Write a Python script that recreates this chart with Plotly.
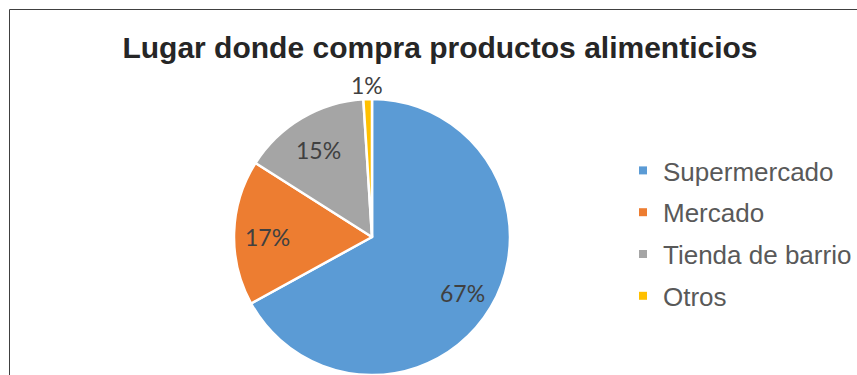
import math
import plotly.graph_objects as go

title_text = "Lugar donde compra productos alimenticios"
categories = ["Supermercado", "Mercado", "Tienda de barrio", "Otros"]
values = [67, 17, 15, 1]
colors = ["#5B9BD5", "#ED7D31", "#A5A5A5", "#FFC000"]
label_inside = [True, True, True, False]

W, H = 857, 375
# pie geometry in pixels (center x, center y from top, radius)
PIE_CX, PIE_CY, PIE_R = 372, 237, 138

fig = go.Figure()

fig.add_trace(go.Pie(
    labels=categories,
    values=values,
    sort=False,
    direction="clockwise",
    rotation=0,
    marker=dict(colors=colors, line=dict(color="white", width=2.5)),
    textinfo="none",
    domain=dict(x=[(PIE_CX - PIE_R) / W, (PIE_CX + PIE_R) / W],
                y=[1 - (PIE_CY + PIE_R) / H, 1 - (PIE_CY - PIE_R) / H]),
    showlegend=False,
    hoverinfo="label+percent",
))

# percentage labels placed along each slice's mid-angle
total = sum(values)
cum = 0.0
annotations = []
for v, inside in zip(values, label_inside):
    mid = (cum + v / 2) / total * 2 * math.pi  # clockwise from 12 o'clock
    cum += v
    d = PIE_R * 0.76 if inside else PIE_R + 17
    px = PIE_CX + d * math.sin(mid)
    py = PIE_CY + 3 - d * math.cos(mid)
    annotations.append(dict(
        x=px / W, y=1 - py / H, xref="paper", yref="paper",
        xanchor="center", yanchor="middle",
        text=f"{round(v / total * 100)}%", showarrow=False,
        font=dict(family="Lato", size=23, color="#404040"),
    ))

# legend entries (one group per category for spacing)
for name, col in zip(categories, colors):
    fig.add_trace(go.Scatter(
        x=[None], y=[None], mode="markers", name=name,
        marker=dict(symbol="square", size=8, color=col),
        legendgroup=name, showlegend=True, hoverinfo="skip",
    ))

fig.update_layout(
    width=W, height=H,
    margin=dict(l=0, r=0, t=0, b=0, autoexpand=False),
    paper_bgcolor="white",
    plot_bgcolor="white",
    xaxis=dict(visible=False),
    yaxis=dict(visible=False),
    title=dict(
        text=title_text,
        x=440 / W, xanchor="center",
        y=1 - 47 / H, yanchor="middle",
        font=dict(family="Liberation Sans, Arial", size=30, color="#262626", weight="bold"),
    ),
    legend=dict(
        x=623 / W, xanchor="left",
        y=1 - 147 / H, yanchor="top",
        font=dict(family="Liberation Sans, Arial", size=26, color="#595959"),
        tracegroupgap=5,
        bgcolor="rgba(0,0,0,0)",
    ),
    annotations=annotations,
    shapes=[dict(
        type="rect", xref="paper", yref="paper",
        x0=9.5 / W, x1=1.05, y0=-0.05, y1=1 - 9.5 / H,
        line=dict(color="#404040", width=1),
        fillcolor="rgba(0,0,0,0)",
        layer="above",
    )],
)

fig.write_html("out.html")
